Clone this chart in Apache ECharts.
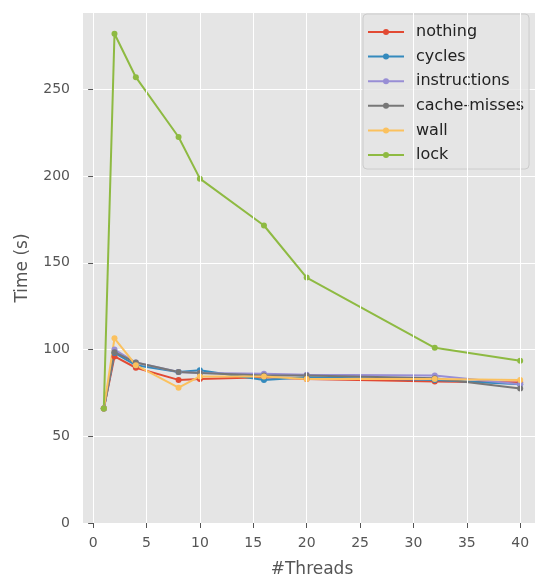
<!DOCTYPE html>
<html>
<head>
<meta charset="utf-8">
<script src="https://cdn.jsdelivr.net/npm/echarts@6/dist/echarts.min.js"></script>
<style>
  html, body { margin: 0; padding: 0; background: #fff; }
  #chart { width: 535px; height: 577px; }
</style>
</head>
<body>
<div id="chart"></div>
<script>
  /* ---- Data ---- */
  const threads = [1, 2, 4, 8, 10, 16, 20, 32, 40];
  const nothing = [66, 96, 89.5, 82.5, 83, 84, 83, 81.5, 81];
  const cycles = [66, 98, 91, 87, 88, 82.5, 84, 82.5, 80];
  const instructions = [66, 100, 92.5, 87, 86.5, 86, 85.5, 85, 80];
  const cacheMisses = [66, 98.5, 92.5, 87, 86.5, 85, 85, 83.5, 77.5];
  const wall = [66, 106.5, 91, 78, 84.5, 84.5, 83, 83, 82.5];
  const lock = [66, 282, 257, 222.5, 198.5, 171.5, 141.5, 101, 93.5];

  const xTicks = [0, 5, 10, 15, 20, 25, 30, 35, 40];
  const yTicks = [0, 50, 100, 150, 200, 250];

  const seriesDefs = [
    ["nothing", nothing, "#E24A33"],
    ["cycles", cycles, "#348ABD"],
    ["instructions", instructions, "#988ED5"],
    ["cache-misses", cacheMisses, "#777777"],
    ["wall", wall, "#FBC15E"],
    ["lock", lock, "#8EBA42"]
  ];

  const font = "DejaVu Sans";
  const chart = echarts.init(document.getElementById("chart"), null, { renderer: "canvas" });

  const series = seriesDefs.map(([name, vals, color]) => ({
    name, type: "line",
    data: threads.map((t, i) => [t, vals[i]]),
    symbol: "circle", symbolSize: 6,
    lineStyle: { width: 2, color },
    itemStyle: { color },
    animation: false
  }));

  // vertical grid lines (white) drawn under the data
  series.push({
    type: "line", data: [], z: 1, silent: true,
    markLine: {
      silent: true, symbol: "none", label: { show: false },
      lineStyle: { color: "#fff", width: 1, type: "solid" },
      data: xTicks.map(v => ({ xAxis: v }))
    }
  });

  chart.setOption({
    backgroundColor: "#fff",
    animation: false,
    grid: {
      left: 83, right: -6, top: 13, bottom: 54,
      outerBoundsMode: "none",
      show: true, backgroundColor: "#E5E5E5", borderWidth: 0
    },
    xAxis: {
      type: "value", min: -0.95, max: 41.95,
      name: "#Threads", nameLocation: "middle", nameGap: 38,
      nameTextStyle: { color: "#555", fontSize: 17, fontFamily: font },
      axisLine: { show: false },
      axisTick: { show: true, length: 5, lineStyle: { color: "#555" }, customValues: xTicks },
      axisLabel: { color: "#555", fontSize: 14, fontFamily: font, margin: 13, customValues: xTicks },
      splitLine: { show: false }
    },
    yAxis: {
      type: "value", min: 0, max: 294,
      name: "Time (s)", nameLocation: "middle", nameGap: 52,
      nameTextStyle: { color: "#555", fontSize: 17, fontFamily: font },
      axisLine: { show: false },
      axisTick: { show: true, length: 5, lineStyle: { color: "#555" }, customValues: yTicks },
      axisLabel: { color: "#555", fontSize: 14, fontFamily: font, margin: 13, customValues: yTicks },
      splitLine: { show: true, lineStyle: { color: "#fff", width: 1 } }
    },
    legend: {
      orient: "vertical", left: 363, top: 14,
      padding: [10, 5, 6, 4],
      itemWidth: 36, itemHeight: 7.5, itemGap: 8.6,
      backgroundColor: "rgba(229,229,229,0.8)",
      borderColor: "#CCCCCC", borderWidth: 1, borderRadius: 4,
      textStyle: { color: "#222", fontSize: 16, lineHeight: 15, fontFamily: font, padding: [0, 0, 0, 7] },
      data: seriesDefs.map(d => d[0])
    },
    series
  });
</script>
</body>
</html>
